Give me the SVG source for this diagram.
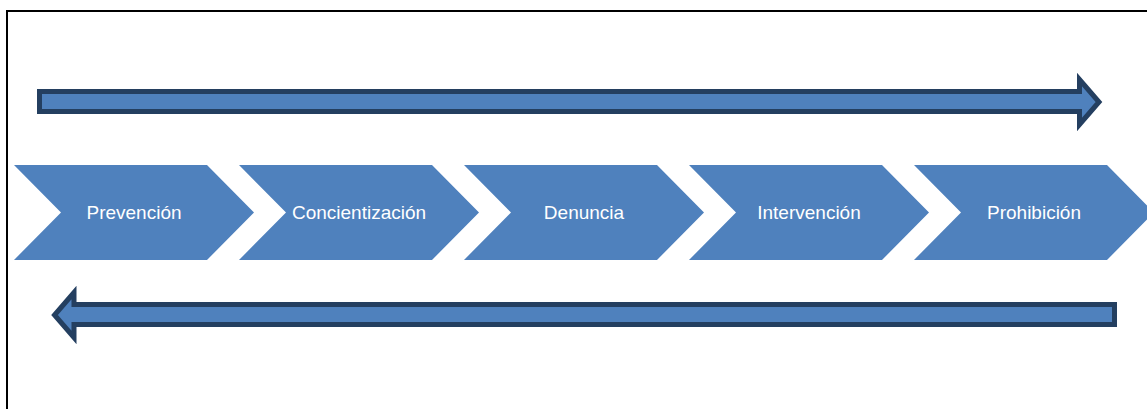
<svg xmlns="http://www.w3.org/2000/svg" width="1147" height="409" viewBox="0 0 1147 409">
<style>
.chev{fill:#4F81BD;}
.arrow{fill:#4F81BD;stroke:#243F60;stroke-width:5;stroke-linejoin:miter;}
.lbl{font-family:"Liberation Sans",Arial,sans-serif;font-size:19px;fill:#FFFFFF;text-anchor:middle;dominant-baseline:central;}
.frame{fill:none;stroke:#000000;stroke-width:2;}
</style>
<rect width="1147" height="409" fill="#FFFFFF"/>
<path class="frame" d="M7,409 V11 H1147"/>
<g id="connectors">
<polygon id="arrow-forward" class="arrow" points="39.5,91.5 1079.5,91.5 1079.5,79.5 1099,102 1079.5,124.5 1079.5,111.5 39.5,111.5"/>
<polygon id="arrow-back" class="arrow" points="1114.5,304.5 74,304.5 74,292.5 54.5,315 74,337.5 74,324.5 1114.5,324.5"/>
</g>
<g id="node-prevencion">
<polygon class="chev" points="14,165 207,165 254,212.5 207,260 14,260 61,212.5"/>
<text class="lbl" x="134" y="212">Prevención</text>
</g>
<g id="node-concientizacion">
<polygon class="chev" points="239,165 432,165 479,212.5 432,260 239,260 286,212.5"/>
<text class="lbl" x="359" y="212">Concientización</text>
</g>
<g id="node-denuncia">
<polygon class="chev" points="464,165 657,165 704,212.5 657,260 464,260 511,212.5"/>
<text class="lbl" x="584" y="212">Denuncia</text>
</g>
<g id="node-intervencion">
<polygon class="chev" points="689,165 882,165 929,212.5 882,260 689,260 736,212.5"/>
<text class="lbl" x="809" y="212">Intervención</text>
</g>
<g id="node-prohibicion">
<polygon class="chev" points="914,165 1107,165 1154,212.5 1107,260 914,260 961,212.5"/>
<text class="lbl" x="1034" y="212">Prohibición</text>
</g>
</svg>
